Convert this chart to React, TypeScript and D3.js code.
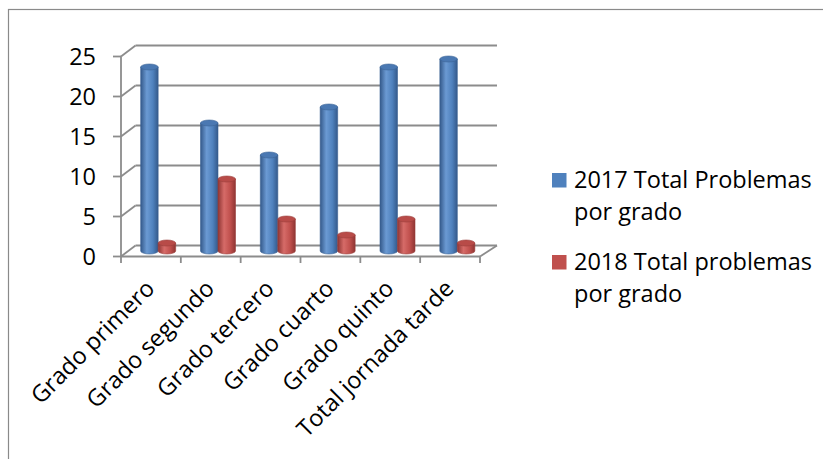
import React from "react";
import * as d3 from "d3";

const categories = [
  "Grado primero",
  "Grado segundo",
  "Grado tercero",
  "Grado cuarto",
  "Grado quinto",
  "Total jornada tarde",
];
const series2017 = [23, 16, 12, 18, 23, 24];
const series2018 = [1, 9, 4, 2, 4, 1];
const seriesNames = ["2017 Total Problemas", "2018 Total problemas"];
const legendSecondLine = "por grado";
const yTicks = [0, 5, 10, 15, 20, 25];

const W = 823;
const H = 459;
const FONT = "'Open Sans', 'Noto Sans', sans-serif";
const FS = 23.5;

// geometry
const axisX0 = 121;
const axisX1 = 480;
const frontY0 = 256.5;
const depthX = 14.5;
const depthY = -11;

export default function App() {
  const x = d3.scaleBand<string>().domain(categories).range([axisX0, axisX1]).padding(0);
  const yFront = d3.scaleLinear().domain([0, 25]).range([frontY0, frontY0 - 200]);
  const yMid = (v: number) => yFront(v) + depthY / 2;
  const yBack = (v: number) => yFront(v) + depthY;
  const bw = x.bandwidth();
  const barW = 17.5;
  const ry = 3;

  const colors = [
    { dark: "#34598a", mid: "#4f81bd", light: "#6b9ad3", top: "#4a78b2", stroke: "#3b6396" },
    { dark: "#8f3533", mid: "#c0504d", light: "#d66b68", top: "#b84b48", stroke: "#9a3e3b" },
  ];

  const bars: { cat: string; i: number; s: number; v: number }[] = [];
  categories.forEach((c, i) => {
    bars.push({ cat: c, i, s: 0, v: series2017[i] });
    bars.push({ cat: c, i, s: 1, v: series2018[i] });
  });

  const cylinder = (x0: number, x1: number, yTop: number, yBase: number) => {
    const rx = (x1 - x0) / 2;
    return `M${x0},${yTop} L${x0},${yBase} A${rx},${ry} 0 0 0 ${x1},${yBase} L${x1},${yTop} Z`;
  };

  const gridColor = "#8c8c8c";

  return (
    <svg
      width={W}
      height={H}
      style={{ position: "absolute", left: 0, top: 0, background: "#fff" }}
    >
      <defs>
        {colors.map((c, k) => (
          <linearGradient key={k} id={`g${k}`} x1="0" x2="1" y1="0" y2="0">
            <stop offset="0" stopColor={c.dark} />
            <stop offset="0.35" stopColor={c.light} />
            <stop offset="0.7" stopColor={c.mid} />
            <stop offset="1" stopColor={c.dark} />
          </linearGradient>
        ))}
      </defs>
      <rect x={8.5} y={9.5} width={900} height={600} fill="none" stroke="#8a8a8a" strokeWidth={1.2} />

      {/* back wall gridlines and left wall diagonals */}
      {yTicks.map((t) => (
        <g key={t}>
          <line
            x1={axisX0 + depthX}
            x2={axisX1 + depthX + 2.5}
            y1={yBack(t)}
            y2={yBack(t)}
            stroke={gridColor}
            strokeWidth={1.8}
          />
          <line
            x1={axisX0}
            y1={yFront(t)}
            x2={axisX0 + depthX}
            y2={yBack(t)}
            stroke={gridColor}
            strokeWidth={1.8}
          />
          <line x1={axisX0 - 8} x2={axisX0} y1={yFront(t)} y2={yFront(t)} stroke={gridColor} strokeWidth={1.8} />
          <text
            x={96}
            y={yFront(t) + 8.5}
            textAnchor="end"
            fontFamily={FONT}
            fontSize={FS}
            fill="#000"
          >
            {t}
          </text>
        </g>
      ))}
      {/* floor right diagonal */}
      <line
        x1={axisX1}
        y1={frontY0}
        x2={axisX1 + depthX + 2.5}
        y2={yBack(0)}
        stroke={gridColor}
        strokeWidth={1.8}
      />
      {/* front y axis */}
      <line x1={axisX0} x2={axisX0} y1={yFront(25)} y2={frontY0} stroke={gridColor} strokeWidth={1.8} />

      {/* bars */}
      {bars.map((b, k) => {
        const cx = (x(b.cat) as number) + bw / 2 + depthX / 2;
        const x0 = b.s === 0 ? cx - barW : cx;
        const x1 = x0 + barW;
        const yt = yMid(b.v);
        const yb = yMid(0);
        const c = colors[b.s];
        return (
          <g key={k}>
            <path d={cylinder(x0, x1, yt, yb)} fill={`url(#g${b.s})`} stroke={c.stroke} strokeWidth={0.6} />
            <ellipse cx={(x0 + x1) / 2} cy={yt} rx={barW / 2} ry={ry} fill={c.top} stroke={c.stroke} strokeWidth={0.6} />
          </g>
        );
      })}

      {/* front floor line */}
      <line x1={axisX0} x2={axisX1} y1={frontY0} y2={frontY0} stroke={gridColor} strokeWidth={1.8} />
      {d3.range(categories.length + 1).map((i) => {
        const xx = axisX0 + i * bw;
        return <line key={i} x1={xx} x2={xx} y1={frontY0} y2={frontY0 + 6.5} stroke={gridColor} strokeWidth={1.8} />;
      })}

      {/* category labels */}
      {categories.map((c) => {
        const px = (x(c) as number) + bw / 2 + 5;
        const py = 290;
        return (
          <text
            key={c}
            x={px}
            y={py}
            textAnchor="end"
            transform={`rotate(-45 ${px} ${py})`}
            fontFamily={FONT}
            fontSize={FS}
            fill="#000"
          >
            {c}
          </text>
        );
      })}

      {/* legend */}
      {seriesNames.map((n, k) => {
        const base = 188 + k * 82;
        return (
          <g key={n}>
            <rect x={552} y={base - 15} width={14.5} height={14.5} fill={colors[k].mid} />
            <text x={574} y={base} fontFamily={FONT} fontSize={FS} fill="#000">
              {n}
            </text>
            <text x={574} y={base + 32} fontFamily={FONT} fontSize={FS} fill="#000">
              {legendSecondLine}
            </text>
          </g>
        );
      })}
    </svg>
  );
}
